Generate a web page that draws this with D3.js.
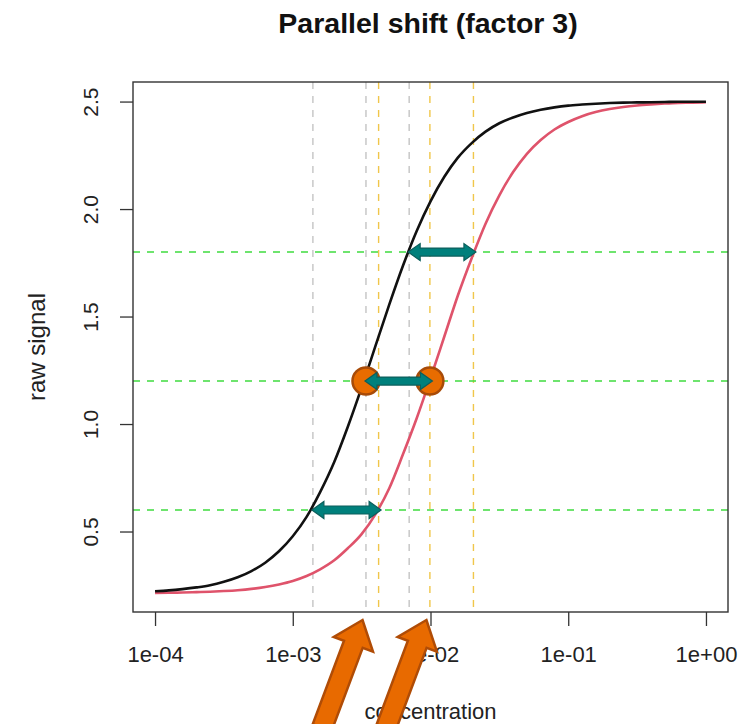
<!DOCTYPE html>
<html>
<head>
<meta charset="utf-8">
<script src="https://cdnjs.cloudflare.com/ajax/libs/d3/7.8.5/d3.min.js"></script>
<style>
  body { margin: 0; background: #fff; }
  svg { display: block; font-family: "Liberation Sans", Arial, sans-serif; }
  .axis text { fill: #222; }
  .axis line { stroke: #333; stroke-width: 1.3; }
</style>
</head>
<body>
<div id="chart"></div>
<script>

// concentrations (log grid)
var conc = [
  1.00e-4, 1.26e-4, 1.58e-4, 2.00e-4, 2.51e-4, 3.16e-4, 3.98e-4, 5.01e-4, 6.31e-4, 7.94e-4,
  1.00e-3, 1.26e-3, 1.58e-3, 2.00e-3, 2.51e-3, 3.16e-3, 3.98e-3, 5.01e-3, 6.31e-3, 7.94e-3,
  1.00e-2, 1.26e-2, 1.58e-2, 2.00e-2, 2.51e-2, 3.16e-2, 3.98e-2, 5.01e-2, 6.31e-2, 7.94e-2,
  1.00e-1, 1.26e-1, 1.58e-1, 2.00e-1, 2.51e-1, 3.16e-1, 3.98e-1, 5.01e-1, 6.31e-1, 7.94e-1,
  1.00
];

// raw signal, reference curve (black)
var signalRef = [
  0.222, 0.226, 0.232, 0.240, 0.250, 0.266, 0.287, 0.316, 0.355, 0.408,
  0.478, 0.568, 0.683, 0.823, 0.987, 1.169, 1.362, 1.554, 1.736, 1.898,
  2.036, 2.150, 2.239, 2.308, 2.360, 2.399, 2.426, 2.447, 2.462, 2.473,
  2.481, 2.486, 2.490, 2.493, 2.495, 2.496, 2.497, 2.498, 2.499, 2.499,
  2.499
];

// raw signal, shifted curve (red)
var signalShift = [
  0.214, 0.215, 0.216, 0.218, 0.220, 0.223, 0.227, 0.233, 0.242, 0.254,
  0.270, 0.293, 0.324, 0.366, 0.422, 0.488, 0.580, 0.700, 0.859, 1.027,
  1.213, 1.407, 1.598, 1.775, 1.932, 2.064, 2.172, 2.257, 2.321, 2.370,
  2.405, 2.432, 2.451, 2.465, 2.475, 2.482, 2.487, 2.491, 2.494, 2.495,
  2.497
];

var levels = [0.6, 1.2, 1.8];              // green horizontal lines
var crossRef = [0.0014, 0.0034, 0.0070];   // grey verticals
var crossShift = [0.0042, 0.0099, 0.0205]; // yellow verticals

var xTicks = [1e-4, 1e-3, 1e-2, 1e-1, 1];
var xTickLabels = ["1e-04", "1e-03", "1e-02", "1e-01", "1e+00"];
var yTicks = [0.5, 1.0, 1.5, 2.0, 2.5];

var width = 753, height = 724;
var margin = { top: 82, right: 25, bottom: 112, left: 133 };

var x = d3.scaleLog()
  .domain([10 ** -4.16, 10 ** 0.16])
  .range([margin.left, width - margin.right]);

var y = d3.scaleLinear()
  .domain([0.1256, 2.591])
  .range([height - margin.bottom, margin.top]);

var svg = d3.select("#chart").append("svg")
  .attr("width", width)
  .attr("height", height);

svg.append("defs").append("clipPath")
  .attr("id", "plotclip")
  .append("rect")
  .attr("x", margin.left)
  .attr("y", margin.top)
  .attr("width", width - margin.left - margin.right)
  .attr("height", height - margin.top - margin.bottom);

// title
svg.append("text")
  .attr("x", 428)
  .attr("y", 32.5)
  .attr("text-anchor", "middle")
  .style("font-size", "28.5px")
  .style("font-weight", "bold")
  .style("fill", "#111")
  .text("Parallel shift (factor 3)");

var plot = svg.append("g").attr("clip-path", "url(#plotclip)");

// guide lines
plot.selectAll(".vref")
  .data(crossRef)
  .enter().append("line")
  .attr("x1", function (d) { return x(d); })
  .attr("x2", function (d) { return x(d); })
  .attr("y1", margin.top)
  .attr("y2", height - margin.bottom)
  .style("stroke", "#c4c4c4")
  .style("stroke-width", 1.4)
  .style("stroke-dasharray", "7,7");

plot.selectAll(".vshift")
  .data(crossShift)
  .enter().append("line")
  .attr("x1", function (d) { return x(d); })
  .attr("x2", function (d) { return x(d); })
  .attr("y1", margin.top)
  .attr("y2", height - margin.bottom)
  .style("stroke", "#f0c64a")
  .style("stroke-width", 1.4)
  .style("stroke-dasharray", "7,7");

plot.selectAll(".hlevel")
  .data(levels)
  .enter().append("line")
  .attr("x1", margin.left)
  .attr("x2", width - margin.right)
  .attr("y1", function (d) { return y(d); })
  .attr("y2", function (d) { return y(d); })
  .style("stroke", "#3fdc3f")
  .style("stroke-width", 1.4)
  .style("stroke-dasharray", "7,7");

// curves
var line = d3.line()
  .curve(d3.curveMonotoneX)
  .x(function (d) { return x(d[0]); })
  .y(function (d) { return y(d[1]); });

plot.append("path")
  .attr("d", line(d3.zip(conc, signalShift)))
  .style("fill", "none")
  .style("stroke", "#df536b")
  .style("stroke-width", 2.6);

plot.append("path")
  .attr("d", line(d3.zip(conc, signalRef)))
  .style("fill", "none")
  .style("stroke", "#111")
  .style("stroke-width", 2.6);

// box
svg.append("rect")
  .attr("x", margin.left)
  .attr("y", margin.top)
  .attr("width", width - margin.left - margin.right)
  .attr("height", height - margin.top - margin.bottom)
  .style("fill", "none")
  .style("stroke", "#333")
  .style("stroke-width", 1.4);

// axes
var gx = svg.append("g")
  .attr("class", "axis")
  .attr("transform", "translate(0," + (height - margin.bottom) + ")")
  .call(d3.axisBottom(x)
    .tickValues(xTicks)
    .tickFormat(function (d, i) { return xTickLabels[i]; })
    .tickSize(14));
gx.select(".domain").remove();
gx.selectAll("text")
  .attr("y", 50)
  .attr("dy", null)
  .style("font-size", "22px")
  .style("font-family", "\"Liberation Sans\", Arial, sans-serif");

var gy = svg.append("g")
  .attr("class", "axis")
  .attr("transform", "translate(" + margin.left + ",0)")
  .call(d3.axisLeft(y)
    .tickValues(yTicks)
    .tickFormat(d3.format(".1f"))
    .tickSize(13));
gy.select(".domain").remove();
gy.selectAll("text")
  .attr("x", null)
  .attr("dy", null)
  .attr("text-anchor", "middle")
  .attr("transform", "translate(-35,0) rotate(-90)")
  .style("font-size", "21px")
  .style("font-family", "\"Liberation Sans\", Arial, sans-serif");

svg.append("text")
  .attr("transform", "translate(45," + y(1.358) + ") rotate(-90)")
  .attr("text-anchor", "middle")
  .style("font-size", "24px")
  .style("fill", "#222")
  .text("raw signal");

svg.append("text")
  .attr("x", (margin.left + width - margin.right) / 2)
  .attr("y", 719)
  .attr("text-anchor", "middle")
  .style("font-size", "22px")
  .style("fill", "#222")
  .text("concentration");

// annotations: orange markers at the middle level
var mid = 1;
svg.selectAll(".marker")
  .data([crossRef[mid], crossShift[mid]])
  .enter().append("circle")
  .attr("cx", function (d) { return x(d); })
  .attr("cy", y(levels[mid]))
  .attr("r", 13.5)
  .style("fill", "#e86c00")
  .style("stroke", "#a84b08")
  .style("stroke-width", 2.5);

// teal double arrows between the two curves
function doubleArrow(x0, x1, yc) {
  var hl = 12, hh = 8.5, st = 4;
  return "M" + x0 + "," + yc +
    "L" + (x0 + hl) + "," + (yc - hh) +
    "L" + (x0 + hl) + "," + (yc - st) +
    "L" + (x1 - hl) + "," + (yc - st) +
    "L" + (x1 - hl) + "," + (yc - hh) +
    "L" + x1 + "," + yc +
    "L" + (x1 - hl) + "," + (yc + hh) +
    "L" + (x1 - hl) + "," + (yc + st) +
    "L" + (x0 + hl) + "," + (yc + st) +
    "L" + (x0 + hl) + "," + (yc + hh) + "Z";
}

svg.selectAll(".shift")
  .data(levels)
  .enter().append("path")
  .attr("d", function (d, i) {
    return doubleArrow(x(crossRef[i]) - 1, x(crossShift[i]) + 2.5, y(d));
  })
  .style("fill", "#00807c")
  .style("stroke", "#0c5f5c")
  .style("stroke-width", 1.2);

// orange block arrows pointing at the two mid-level concentrations
function blockArrow(tx, ty) {
  var ang = Math.atan2(-104, 39); // direction tail -> tip
  var ux = Math.cos(ang), uy = Math.sin(ang);
  var px = -uy, py = ux;
  var len = 115, hl = 26, hw = 21, sw = 10;
  var bx = tx - ux * hl, by = ty - uy * hl;
  var ex = tx - ux * len, ey = ty - uy * len;
  var pts = [
    [tx, ty],
    [bx + px * hw, by + py * hw],
    [bx + px * sw, by + py * sw],
    [ex + px * sw, ey + py * sw],
    [ex - px * sw, ey - py * sw],
    [bx - px * sw, by - py * sw],
    [bx - px * hw, by - py * hw]
  ];
  return "M" + pts.map(function (p) { return p[0].toFixed(1) + "," + p[1].toFixed(1); }).join("L") + "Z";
}

svg.selectAll(".pointer")
  .data([crossRef[mid], crossShift[mid]])
  .enter().append("path")
  .attr("d", function (d) { return blockArrow(x(d) - 3.5, height - margin.bottom + 8); })
  .style("fill", "#e86a00")
  .style("stroke", "#b04c06")
  .style("stroke-width", 2.5)
  .style("stroke-linejoin", "miter");

</script>
</body>
</html>
